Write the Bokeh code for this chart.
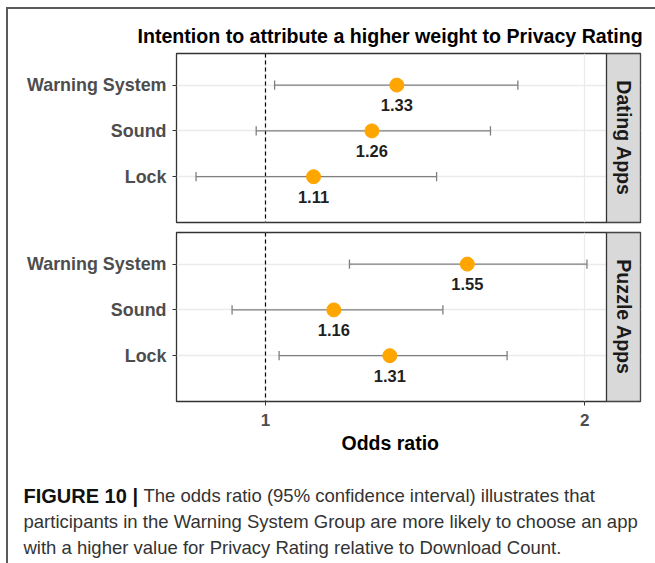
import math

from bokeh.core.properties import value
from bokeh.embed import file_html
from bokeh.layouts import column
from bokeh.models import FixedTicker, Grid, Range1d, Span, Title
from bokeh.plotting import figure
from bokeh.resources import INLINE

# ---- data -------------------------------------------------------------
categories = ["Warning System", "Sound", "Lock"]

dating_or = [1.33, 1.26, 1.11]
dating_lo = [1.02, 0.98, 0.86]
dating_hi = [1.73, 1.63, 1.45]

puzzle_or = [1.55, 1.16, 1.31]
puzzle_lo = [1.20, 0.93, 1.03]
puzzle_hi = [2.01, 1.47, 1.69]

x_ticks = [1, 2]
panel_names = ["Dating Apps", "Puzzle Apps"]

title_text = "Intention to attribute a higher weight to Privacy Rating"
x_label = "Odds ratio"
caption_head = "FIGURE 10 |"
caption_lines = [
    "The odds ratio (95% confidence interval) illustrates that",
    "participants in the Warning System Group are more likely to choose an app",
    "with a higher value for Privacy Rating relative to Download Count.",
]

# ---- shared scales ----------------------------------------------------
FONT = "Liberation Sans"
rows = [len(categories) - i for i in range(len(categories))]  # 3, 2, 1

l0 = math.log2(min(dating_lo + puzzle_lo))
l1 = math.log2(max(dating_hi + puzzle_hi))
pad = 0.05 * (l1 - l0)
x_lo = 2 ** (l0 - pad)
x_panel_hi = 2 ** (l1 + pad)
strip_frac = 34 / 430  # strip width relative to the panel width
x_hi = 2 ** (l1 + pad + strip_frac * (l1 - l0 + 2 * pad))
y_lo, y_hi = 0.0, 3.69

FIG_W = 647
BORDER = "2px solid #5A5A5A"


def make_panel(name, orv, lov, hiv, height, top, bottom, with_x_axis):
    p = figure(
        width=FIG_W, height=height,
        x_axis_type="log",
        x_range=Range1d(x_lo, x_hi), y_range=Range1d(y_lo, y_hi),
        x_axis_location="below" if with_x_axis else None,
        output_backend="svg", toolbar_location=None,
        min_border_left=168, min_border_right=15,
        min_border_top=top, min_border_bottom=bottom,
        background_fill_color="white", border_fill_color="white",
    )
    p.center = []
    p.add_layout(Grid(dimension=0, ticker=FixedTicker(ticks=x_ticks),
                      grid_line_color="#EBEBEB", grid_line_width=1.2))
    p.add_layout(Grid(dimension=1, ticker=FixedTicker(ticks=rows),
                      grid_line_color="#EBEBEB", grid_line_width=1.6))
    p.add_layout(Span(location=1, dimension="height", line_color="black",
                      line_dash="4 3", line_width=1.2, level="underlay"))

    # confidence intervals with end caps
    ebar = dict(line_color="#7F7F7F", line_width=1.3)
    p.segment(x0=lov, y0=rows, x1=hiv, y1=rows, **ebar)
    p.segment(x0=lov, y0=[r - 0.1 for r in rows], x1=lov, y1=[r + 0.1 for r in rows], **ebar)
    p.segment(x0=hiv, y0=[r - 0.1 for r in rows], x1=hiv, y1=[r + 0.1 for r in rows], **ebar)

    # point estimates and their values
    p.scatter(x=orv, y=rows, size=14, fill_color="#FFA500", line_color="#FFA500")
    p.text(x=orv, y=rows, text=[f"{v:.2f}" for v in orv], y_offset=20,
           text_align="center", text_baseline="middle",
           text_font=value(FONT), text_font_style="bold",
           text_font_size="16.5px", text_color="#1F1F1F")

    # facet strip on the right
    p.quad(left=[x_panel_hi], right=[x_hi], bottom=[y_lo], top=[y_hi],
           fill_color="#D9D9D9", line_color="#333333", line_width=1.3)
    p.text(x=[math.sqrt(x_panel_hi * x_hi)], y=[(y_lo + y_hi) / 2], text=[name],
           angle=-math.pi / 2, text_align="center", text_baseline="middle",
           text_font=value(FONT), text_font_style="bold",
           text_font_size="19.6px", text_color="#1A1A1A")

    p.outline_line_color = "#333333"
    p.outline_line_width = 1.3

    ya = p.yaxis[0]
    ya.ticker = FixedTicker(ticks=rows)
    ya.major_label_overrides = {r: c for r, c in zip(rows, categories)}
    ya.axis_line_color = None
    ya.major_tick_in = 0
    ya.major_tick_out = 4
    ya.major_tick_line_color = "#333333"
    ya.minor_tick_line_color = None
    ya.major_label_standoff = 6
    ya.major_label_text_font = FONT
    ya.major_label_text_font_style = "bold"
    ya.major_label_text_font_size = "17.9px"
    ya.major_label_text_color = "#4D4D4D"

    if with_x_axis:
        xa = p.xaxis[0]
        xa.ticker = FixedTicker(ticks=x_ticks)
        xa.major_label_overrides = {t: str(t) for t in x_ticks}
        xa.axis_line_color = None
        xa.major_tick_in = 0
        xa.major_tick_out = 4
        xa.major_tick_line_color = "#333333"
        xa.minor_tick_line_color = None
        xa.major_label_standoff = 8
        xa.major_label_text_font = FONT
        xa.major_label_text_font_style = "bold"
        xa.major_label_text_font_size = "17px"
        xa.major_label_text_color = "#4D4D4D"
        # axis title, centred under the panel (not the strip)
        p.add_layout(Title(text=x_label, align="left", offset=165, standoff=2,
                           text_font=FONT, text_font_style="bold",
                           text_font_size="19.5px", text_color="black"), "below")
    return p


top = make_panel(panel_names[0], dating_or, dating_lo, dating_hi,
                 height=218, top=44, bottom=5, with_x_axis=False)
top.add_layout(Title(text=title_text, align="left", offset=-39, standoff=14,
                     text_font=FONT, text_font_style="bold",
                     text_font_size="19.6px", text_color="black"), "above")

bottom = make_panel(panel_names[1], puzzle_or, puzzle_lo, puzzle_hi,
                    height=233, top=5, bottom=59, with_x_axis=True)

charts = column(top, bottom, spacing=0,
                styles={"border-left": BORDER, "border-top": BORDER,
                        "margin-left": "6px", "margin-top": "7px"})

# ---- caption ----------------------------------------------------------
cap = figure(width=FIG_W, height=103, x_range=Range1d(0, FIG_W), y_range=Range1d(103, 0),
             x_axis_location=None, y_axis_location=None, min_border=0,
             output_backend="svg", toolbar_location=None,
             styles={"border-left": BORDER, "margin-left": "6px"})
cap.grid.visible = False
cap.outline_line_color = None
cap.text(x=[15], y=[35], text=[caption_head], text_baseline="middle",
         text_font=value(FONT), text_font_style="bold", text_font_size="20px",
         text_color="#111111")
cap.text(x=[135, 15, 15], y=[35, 61, 87], text=caption_lines, text_baseline="middle",
         text_font=value(FONT), text_font_size="18.5px", text_color="#333333")

with open("out.html", "w") as f:
    f.write(file_html([charts, cap], INLINE))
